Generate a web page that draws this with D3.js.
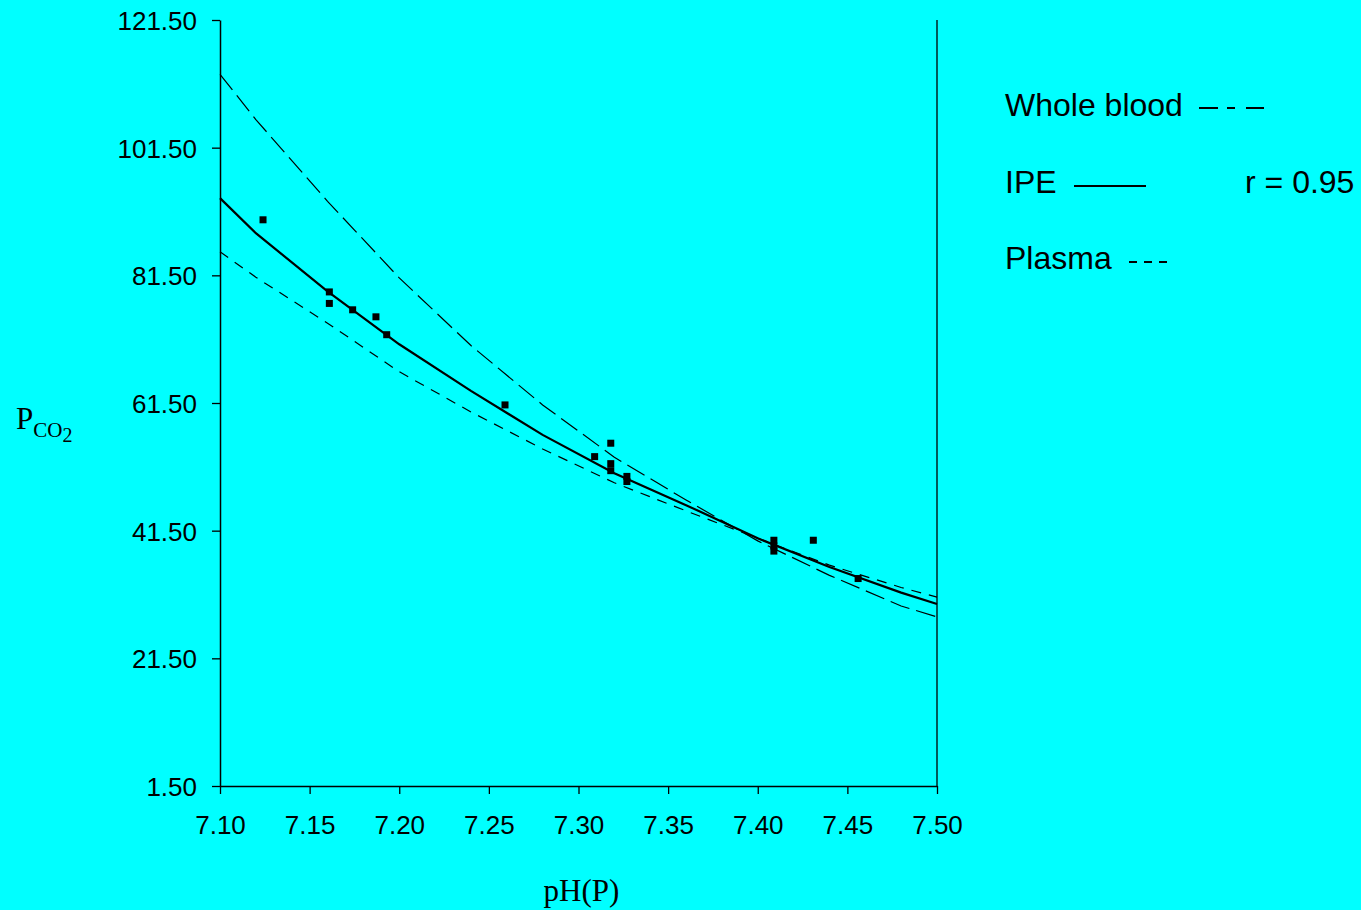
<!DOCTYPE html>
<html>
<head>
<meta charset="utf-8">
<script src="https://cdn.jsdelivr.net/npm/d3@7"></script>
<style>
  html, body { margin: 0; padding: 0; background: #00ffff; }
  svg { display: block; }
  .tick text { font-family: "Liberation Sans", Arial, sans-serif; font-size: 26px; fill: #000; }
</style>
</head>
<body>
<svg id="chart" width="1361" height="910"></svg>
<script>
// pH grid on which the three fitted curves are tabulated
const curvePH = [7.10, 7.12, 7.16, 7.20, 7.24, 7.28, 7.32, 7.36, 7.40, 7.44, 7.48, 7.50];
const ipeCurve = [93.6, 88.1, 79.0, 70.7, 63.4, 56.5, 50.5, 45.5, 40.3, 35.8, 31.8, 30.0];
const wholeBloodCurve = [113.0, 105.9, 93.1, 81.1, 70.5, 61.2, 53.0, 46.3, 39.9, 34.5, 29.7, 28.0];
const plasmaCurve = [85.2, 81.2, 74.0, 66.4, 60.1, 54.3, 49.0, 44.6, 40.3, 36.1, 32.6, 31.1];

// measured samples
const samplePH = [7.124, 7.161, 7.161, 7.174, 7.187, 7.193, 7.259, 7.309, 7.318, 7.318, 7.318,
                  7.327, 7.327, 7.409, 7.409, 7.409, 7.431, 7.456];
const samplePCO2 = [90.2, 78.9, 77.1, 76.1, 75.0, 72.2, 61.2, 53.1, 55.2, 52.0, 50.9,
                    50.0, 49.2, 40.0, 39.1, 38.3, 40.0, 34.0];

// axis ticks
const xTicks = [7.10, 7.15, 7.20, 7.25, 7.30, 7.35, 7.40, 7.45, 7.50];
const yTicks = [1.5, 21.5, 41.5, 61.5, 81.5, 101.5, 121.5];

const svg = d3.select("#chart");
const plotLeft = 220, plotRight = 937, plotTop = 20, plotBottom = 786;

const x = d3.scaleLinear().domain([7.10, 7.50]).range([plotLeft, plotRight]);
const y = d3.scaleLinear().domain([1.5, 121.5]).range([plotBottom, plotTop]);

// axes
const xAxis = svg.append("g")
  .attr("transform", `translate(0,${plotBottom})`)
  .call(d3.axisBottom(x).tickValues(xTicks).tickFormat(d3.format(".2f"))
        .tickSize(8).tickSizeOuter(0).tickPadding(22));
const yAxis = svg.append("g")
  .attr("transform", `translate(${plotLeft},0)`)
  .call(d3.axisLeft(y).tickValues(yTicks).tickFormat(d3.format(".2f"))
        .tickSize(8).tickSizeOuter(0).tickPadding(15));
[xAxis, yAxis].forEach(g => {
  g.attr("font-size", null).attr("font-family", null);
  g.select(".domain").attr("stroke", "#000").attr("stroke-width", 1.5);
  g.selectAll(".tick line").attr("stroke", "#000").attr("stroke-width", 1.3);
});
yAxis.selectAll(".tick text").attr("dy", "0.36em");

// right-hand frame line
svg.append("line")
  .attr("x1", plotRight).attr("x2", plotRight).attr("y1", plotTop).attr("y2", plotBottom)
  .attr("stroke", "#000").attr("stroke-width", 1.3);

const line = d3.line().x(d => x(d[0])).y(d => y(d[1]));

function drawCurve(values, width, dash) {
  svg.append("path")
    .datum(curvePH.map((p, i) => [p, values[i]]))
    .attr("d", line)
    .attr("fill", "none")
    .attr("stroke", "#000")
    .attr("stroke-width", width)
    .attr("stroke-dasharray", dash);
}
drawCurve(wholeBloodCurve, 1.2, "20,7");
drawCurve(plasmaCurve, 1.2, "10,8");
drawCurve(ipeCurve, 2.2, null);

// sample markers
const ms = 7;
svg.append("g").selectAll("rect")
  .data(samplePH.map((p, i) => [p, samplePCO2[i]]))
  .join("rect")
  .attr("x", d => x(d[0]) - ms / 2)
  .attr("y", d => y(d[1]) - ms / 2)
  .attr("width", ms).attr("height", ms)
  .attr("fill", "#000");

// axis titles
const serif = '"Liberation Serif", "Times New Roman", serif';
svg.append("text")
  .attr("x", (plotLeft + plotRight) / 2 + 3).attr("y", 901)
  .attr("text-anchor", "middle")
  .attr("font-family", serif).attr("font-size", 31)
  .text("pH(P)");
const yt = svg.append("text")
  .attr("x", 16).attr("y", 429)
  .attr("font-family", serif).attr("font-size", 31);
yt.append("tspan").text("P");
yt.append("tspan").attr("font-size", 21).attr("dy", 8).text("CO");
yt.append("tspan").attr("font-size", 20).attr("dy", 5).text("2");

// legend
const sans = '"Liberation Sans", Arial, sans-serif';
const legend = svg.append("g").attr("font-family", sans).attr("font-size", 32).attr("fill", "#000");
legend.append("text").attr("x", 1005).attr("y", 116).text("Whole blood");
legend.append("text").attr("x", 1005).attr("y", 193).text("IPE");
legend.append("text").attr("x", 1245).attr("y", 193).text("r = 0.95");
legend.append("text").attr("x", 1005).attr("y", 269).text("Plasma");

legend.append("line")
  .attr("x1", 1199).attr("x2", 1264).attr("y1", 108).attr("y2", 108)
  .attr("stroke", "#000").attr("stroke-width", 2)
  .attr("stroke-dasharray", "19,9,8,11,18");
legend.append("line")
  .attr("x1", 1074).attr("x2", 1146).attr("y1", 186).attr("y2", 186)
  .attr("stroke", "#000").attr("stroke-width", 2);
legend.append("line")
  .attr("x1", 1129).attr("x2", 1173).attr("y1", 262).attr("y2", 262)
  .attr("stroke", "#000").attr("stroke-width", 2)
  .attr("stroke-dasharray", "8,7");
</script>
</body>
</html>
